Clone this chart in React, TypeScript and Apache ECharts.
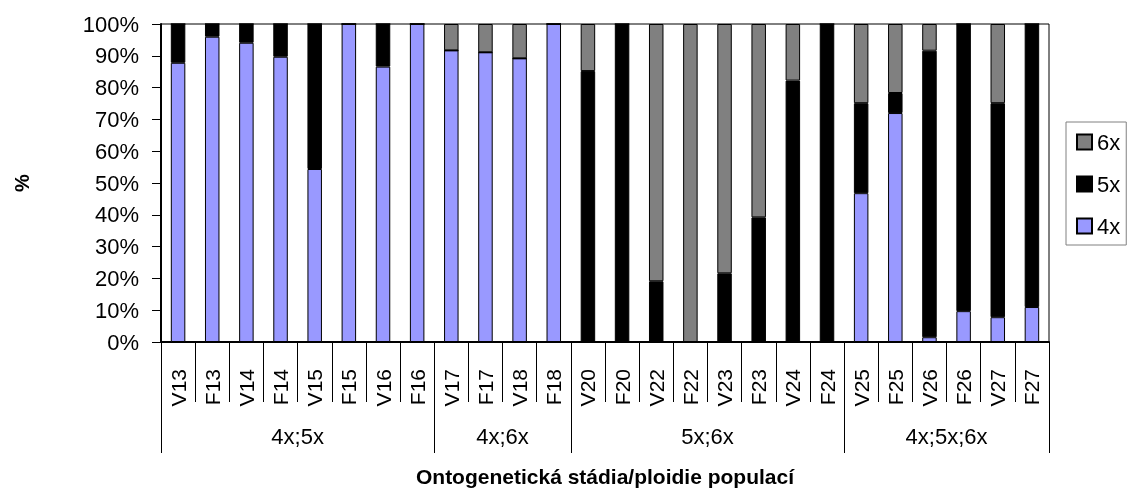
import React, { useEffect, useRef } from "react";
import * as echarts from "echarts";

const categories = ["V13","F13","V14","F14","V15","F15","V16","F16","V17","F17","V18","F18","V20","F20","V22","F22","V23","F23","V24","F24","V25","F25","V26","F26","V27","F27"];
const share4x = [87.8,96.0,94.1,89.7,54.4,100,86.6,100,91.7,91.1,89.2,100,0,0,0,0,0,0,0,0,46.8,72.0,1.5,9.7,7.8,11.0];
const share5x = [12.2,4.0,5.9,10.3,45.6,0,13.4,0,0,0,0,0,85.2,100,19.1,0,21.6,39.2,82.2,100,28.3,6.3,90.1,90.3,67.3,89.0];
const share6x = [0,0,0,0,0,0,0,0,8.3,8.9,10.8,0,14.8,0,80.9,100,78.4,60.8,17.8,0,24.9,21.7,8.4,0,24.9,0];
const groupNames = ["4x;5x","4x;6x","5x;6x","4x;5x;6x"];
const groupSizes = [8,4,8,6];
const seriesNames = ["4x","5x","6x"];
const seriesColors = ["#9999FF","#000000","#808080"];
const legendOrder = ["6x","5x","4x"];
const yTicks = [0,10,20,30,40,50,60,70,80,90,100];
const xTitle = "Ontogenetická stádia/ploidie populací";
const yTitle = "%";

const FONT = "Liberation Sans, Arial, sans-serif";

export default function App() {
  const ref = useRef<HTMLDivElement>(null);
  useEffect(() => {
    if (!ref.current) return;
    const chart = echarts.init(ref.current, null, { renderer: "svg" });
    const slots: string[] = new Array(categories.length + 1).fill("");
    const boundaries: number[] = [0];
    let start = 0;
    groupNames.forEach((g, i) => {
      slots[start + groupSizes[i] / 2] = g;
      start += groupSizes[i];
      boundaries.push(start);
    });
    const values = [share4x, share5x, share6x];
    chart.setOption({
      animation: false,
      textStyle: { fontFamily: FONT, color: "#000" },
      grid: {
        left: 161, top: 24, width: 888, height: 318,
        containLabel: false,
        outerBoundsMode: "none",
        show: true, borderColor: "#000", borderWidth: 1, backgroundColor: "#fff",
      },
      legend: {
        orient: "vertical",
        left: 1066, top: 122,
        data: legendOrder,
        itemWidth: 15, itemHeight: 15, itemGap: 20,
        padding: [9, 6, 8, 10],
        borderColor: "#808080", borderWidth: 1,
        icon: "rect",
        textStyle: { fontSize: 22, fontFamily: FONT, color: "#000" },
      },
      xAxis: [
        {
          type: "category",
          data: categories,
          position: "bottom",
          axisLine: { show: true, lineStyle: { color: "#000", width: 2 } },
          axisTick: { show: true, length: 60, lineStyle: { color: "#000", width: 1 } },
          axisLabel: { interval: 0, rotate: 90, margin: 27, fontSize: 21, color: "#000", fontFamily: FONT },
          name: xTitle,
          nameLocation: "middle",
          nameGap: 124,
          nameTextStyle: { fontSize: 21, fontWeight: "bold", color: "#000", fontFamily: FONT },
        },
        {
          type: "category",
          data: slots,
          position: "bottom",
          boundaryGap: false,
          axisLine: { show: false },
          axisTick: {
            show: true, length: 111,
            interval: (index: number) => boundaries.indexOf(index) >= 0,
            lineStyle: { color: "#000", width: 1 },
          },
          axisLabel: {
            interval: (index: number, value: string) => value !== "",
            margin: 83, fontSize: 22, color: "#000", fontFamily: FONT,
          },
        },
      ],
      yAxis: {
        type: "value",
        min: 0, max: 100, interval: 10,
        axisLine: { show: true, lineStyle: { color: "#000", width: 2 } },
        axisTick: { show: true, length: 9, lineStyle: { color: "#000" } },
        splitLine: { show: false },
        axisLabel: {
          margin: 22, fontSize: 22, color: "#000", fontFamily: FONT,
          formatter: (v: number) => (yTicks.indexOf(v) >= 0 ? v + "%" : ""),
        },
        name: yTitle,
        nameLocation: "middle",
        nameRotate: 90,
        nameGap: 129,
        nameTextStyle: { fontSize: 20, fontWeight: "bold", color: "#000", fontFamily: FONT },
      },
      series: seriesNames.map((n, i) => ({
        name: n,
        type: "bar",
        stack: "total",
        xAxisIndex: 0,
        barWidth: 14.5,
        data: values[i],
        itemStyle: { color: seriesColors[i], borderColor: "#000", borderWidth: 1 },
      })),
    });
    return () => chart.dispose();
  }, []);
  return <div ref={ref} style={{ position: "fixed", left: 0, top: 0, width: 1130, height: 490 }} />;
}
